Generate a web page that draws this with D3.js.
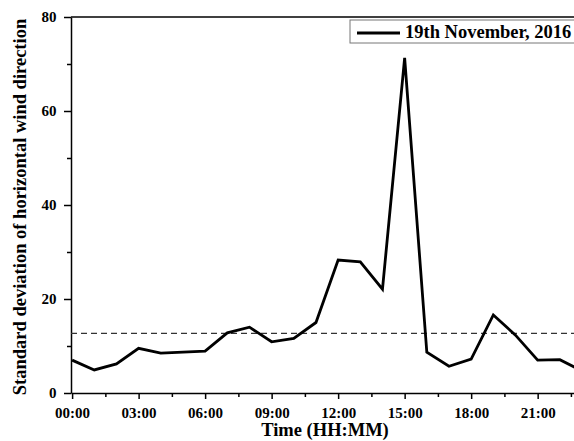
<!DOCTYPE html>
<html>
<head>
<meta charset="utf-8">
<script src="https://cdn.jsdelivr.net/npm/d3@7"></script>
<style>
  body { margin: 0; background: #fff; }
  svg text { font-family: "Liberation Serif", "Times New Roman", serif; font-weight: bold; }
</style>
</head>
<body>
<div id="chart"></div>
<script>
// chart data
const hours = [0, 1, 2, 3, 4, 5, 6, 7, 8, 9, 10, 11, 12, 13, 14, 15, 16, 17, 18, 19, 20, 21, 22, 23];
const stdDev = [7.0, 4.9, 6.2, 9.5, 8.5, 8.7, 8.9, 12.8, 14.0, 10.9, 11.6, 15.0,
                28.3, 27.9, 22.1, 71.3, 8.7, 5.7, 7.2, 16.6, 12.3, 7.0, 7.1, 4.7];
const meanLine = 12.7;
const xTicks = [0, 3, 6, 9, 12, 15, 18, 21];
const yTicks = [0, 20, 40, 60, 80];
const legendLabel = "19th November, 2016";

const WIDTH = 574;
const HEIGHT = 441;
const MARGIN = { TOP: 17, BOTTOM: 48, LEFT: 71, RIGHT: -8 };

const x = d3.scaleLinear()
  .domain([-0.05, 23])
  .range([MARGIN.LEFT, WIDTH - MARGIN.RIGHT]);
const y = d3.scaleLinear()
  .domain([0, 80])
  .range([HEIGHT - MARGIN.BOTTOM, MARGIN.TOP]);

const svg = d3.select('#chart')
  .append('svg')
    .attr('width', WIDTH)
    .attr('height', HEIGHT);

const fmt = h => String(h).padStart(2, '0') + ':00';

// minor ticks first
svg.append('g')
   .attr('transform', `translate(0, ${y(0)})`)
   .call(d3.axisBottom(x).tickValues(d3.range(1.5, 23, 3)).tickSize(4).tickFormat(''))
   .call(g => g.select('.domain').remove());
svg.append('g')
   .attr('transform', `translate(${MARGIN.LEFT}, 0)`)
   .call(d3.axisLeft(y).tickValues([10, 30, 50, 70]).tickSize(4).tickFormat(''))
   .call(g => g.select('.domain').remove());

const xAxis = svg.append('g')
  .attr('transform', `translate(0, ${y(0)})`)
  .call(d3.axisBottom(x).tickValues(xTicks).tickSize(6).tickSizeOuter(0).tickFormat(fmt));
xAxis.selectAll('text').attr('font-size', 15).attr('dy', '1.05em').attr('fill', '#000');

const yAxis = svg.append('g')
  .attr('transform', `translate(${MARGIN.LEFT}, 0)`)
  .call(d3.axisLeft(y).tickValues(yTicks).tickSize(7).tickSizeOuter(0));
yAxis.selectAll('text').attr('font-size', 15).attr('dx', '-0.3em').attr('fill', '#000');

svg.selectAll('.domain, .tick line').attr('stroke', '#000').attr('stroke-width', 1.5);

// top frame line
svg.append('line')
   .attr('x1', MARGIN.LEFT).attr('x2', WIDTH)
   .attr('y1', y(80)).attr('y2', y(80))
   .attr('stroke', '#000').attr('stroke-width', 1.5);

// dashed mean line
svg.append('line')
   .attr('x1', MARGIN.LEFT).attr('x2', WIDTH)
   .attr('y1', y(meanLine)).attr('y2', y(meanLine))
   .attr('stroke', '#333').attr('stroke-width', 1.2)
   .attr('stroke-dasharray', '6,4');

const line = d3.line()
  .x((d, i) => x(hours[i]))
  .y(d => y(d));

svg.append('path')
   .datum(stdDev)
   .attr('d', line)
   .attr('fill', 'none')
   .attr('stroke', '#000')
   .attr('stroke-width', 2.8)
   .attr('stroke-linejoin', 'miter');

// legend
const legend = svg.append('g').attr('transform', 'translate(350, 20)');
legend.append('rect')
      .attr('x', 0).attr('y', 0)
      .attr('width', 240).attr('height', 23)
      .attr('fill', '#fff')
      .attr('stroke', '#777').attr('stroke-width', 1);
legend.append('line')
      .attr('x1', 7).attr('x2', 50)
      .attr('y1', 13).attr('y2', 13)
      .attr('stroke', '#000').attr('stroke-width', 2.8);
legend.append('text')
      .attr('x', 55).attr('y', 18)
      .attr('font-size', 18.5)
      .text(legendLabel);

// axis titles
svg.append('text')
   .attr('x', 325).attr('y', 436)
   .attr('text-anchor', 'middle')
   .attr('font-size', 18.5)
   .text('Time (HH:MM)');

svg.append('text')
   .attr('transform', `translate(26, ${(y(0) + y(80)) / 2 + 2}) rotate(-90)`)
   .attr('text-anchor', 'middle')
   .attr('font-size', 18.5)
   .text('Standard deviation of horizontal wind direction');
</script>
</body>
</html>
